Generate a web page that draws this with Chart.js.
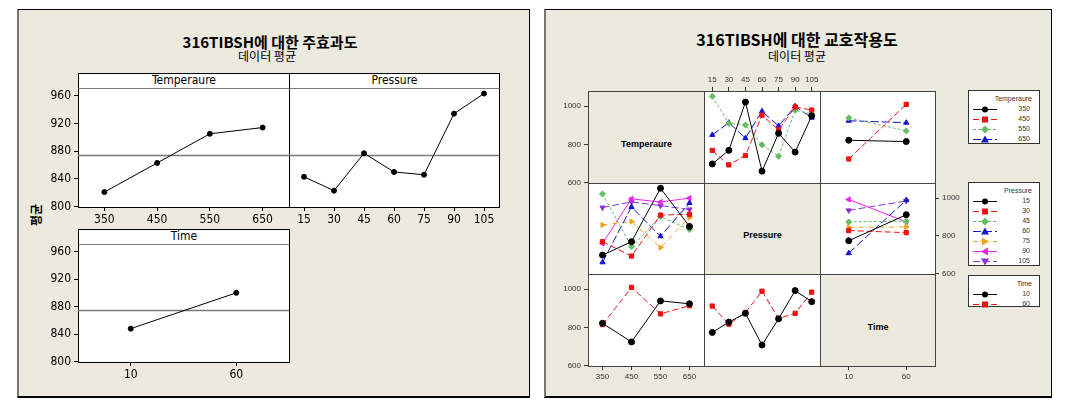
<!DOCTYPE html>
<html>
<head>
<meta charset="utf-8">
<script src="https://cdn.jsdelivr.net/npm/chart.js@4.4.1/dist/chart.umd.min.js"></script>
<style>
  body { margin: 0; width: 1068px; height: 408px; background: #fff; position: relative; overflow: hidden;
         font-family: 'Liberation Sans', Arial, sans-serif; }
  .panel { position: absolute; box-sizing: border-box; background: #ECE9DF;
           border-top: 1px solid #000; border-left: 2px solid #777; border-right: 1px solid #000; border-bottom: 2px solid #000; }
  .title { position: absolute; transform: translate(-50%, -50%); white-space: nowrap; font-family: 'Noto Sans CJK KR', sans-serif; color: #000; }
  .cell { position: absolute; box-sizing: border-box; background: #fff; border: 1px solid #000; }
  .strip { position: absolute; box-sizing: border-box; background: #fff; border: 1px solid #000; border-bottom: 1px solid #7a7a7a;
           text-align: center; font-family: 'Liberation Sans Narrow', 'DejaVu Sans Condensed', sans-serif; font-size: 12px; line-height: 13px; }
  .icell { position: absolute; box-sizing: border-box; background: #fff; border: 1px solid #444; }
  .diag { background: #ECE9DF; font-weight: bold; font-size: 9px; text-align: center; }
  .legend { position: absolute; box-sizing: border-box; background: #fff; border: 1px solid #333; padding-top: 3px;
            font-size: 7px; color: #333; }
  .legend .lt { height: 10px; line-height: 10px; text-align: right; padding-right: 7px; }
  .legend .row { height: 10px; display: flex; align-items: center; }
  .legend .row svg { margin-left: 3px; }
  .legend .row span { flex: 1; text-align: right; padding-right: 9px; line-height: 10px; }
  canvas { position: absolute; }
</style>
</head>
<body>
<div class="panel" style="left:17px;top:9px;width:513px;height:389px"></div>
<div class="panel" style="left:544px;top:9px;width:508px;height:389px"></div>

<div class="title" style="left:270px;top:41px;font-size:15px;font-weight:bold">316TIBSH에 대한 주효과도</div>
<div class="title" style="left:267px;top:55px;font-size:12px">데이터 평균</div>
<div class="title" style="left:797px;top:39px;font-size:16px;font-weight:bold">316TIBSH에 대한 교호작용도</div>
<div class="title" style="left:797px;top:55px;font-size:12px">데이터 평균</div>
<div class="title" style="left:35px;top:215px;font-size:12px;font-weight:bold;transform:translate(-50%,-50%) rotate(-90deg)">평균</div>

<script>
// factor levels
const temperatures = ['350', '450', '550', '650'];
const pressures = ['15', '30', '45', '60', '75', '90', '105'];
const times = ['10', '60'];

// main effects (data means)
const tempMeans = [821, 863, 905, 914];
const pressMeans = [843, 823, 877, 850, 846, 934, 963];
const timeMeans = [848, 900];
const grandMean = 875;
const mainTicks = [800, 840, 880, 920, 960];

// interaction means, Temperature x Pressure
const t350ByPressure = [698, 769, 1022, 660, 858, 760, 950];
const t450ByPressure = [769, 693, 742, 953, 876, 996, 980];
const t550ByPressure = [1052, 910, 902, 798, 738, 979, 960];
const t650ByPressure = [850, 914, 833, 974, 897, 1000, 940];

// Temperature x Time
const t350ByTime = [822, 815];
const t450ByTime = [724, 1010];
const t550ByTime = [939, 871];
const t650ByTime = [924, 914];

// Pressure x Time
const p15ByTime = [774, 912];
const p30ByTime = [828, 817];
const p45ByTime = [874, 878];
const p60ByTime = [708, 990];
const p75ByTime = [845, 847];
const p90ByTime = [993, 874];
const p105ByTime = [935, 985];

const interTicks = [600, 800, 1000];

const tempByPressure = [t350ByPressure, t450ByPressure, t550ByPressure, t650ByPressure];
const tempByTime = [t350ByTime, t450ByTime, t550ByTime, t650ByTime];
const pressByTime = [p15ByTime, p30ByTime, p45ByTime, p60ByTime, p75ByTime, p90ByTime, p105ByTime];

// series looks
const tempStyle = [
  { color: '#000000', shape: 'circle', rot: 0, dash: [] },
  { color: '#EE1111', shape: 'rect', rot: 0, dash: [6, 3] },
  { color: '#66BB66', shape: 'rectRot', rot: 0, dash: [3, 2] },
  { color: '#1414D2', shape: 'triangle', rot: 0, dash: [8, 3] },
];
const pressStyle = [
  { color: '#000000', shape: 'circle', rot: 0, dash: [] },
  { color: '#EE1111', shape: 'rect', rot: 0, dash: [6, 3] },
  { color: '#66BB66', shape: 'rectRot', rot: 0, dash: [3, 2] },
  { color: '#1414D2', shape: 'triangle', rot: 0, dash: [8, 3] },
  { color: '#F0A020', shape: 'triangle', rot: 90, dash: [5, 2, 1, 2] },
  { color: '#EE22EE', shape: 'triangle', rot: 270, dash: [] },
  { color: '#8833CC', shape: 'triangle', rot: 180, dash: [7, 3] },
];
const timeStyle = [
  { color: '#000000', shape: 'circle', rot: 0, dash: [] },
  { color: '#EE1111', shape: 'rect', rot: 0, dash: [6, 3] },
];

const narrowFont = "'Liberation Sans Narrow', 'DejaVu Sans Condensed', sans-serif";

const meanLine = {
  id: 'meanLine',
  beforeDatasetsDraw(chart, args, opts) {
    if (opts.value == null) return;
    const { ctx, chartArea: a } = chart;
    const py = Math.round(chart.scales.y.getPixelForValue(opts.value)) + 0.5;
    ctx.save();
    ctx.strokeStyle = '#7a7a7a';
    ctx.lineWidth = 1.5;
    ctx.beginPath();
    ctx.moveTo(a.left, py);
    ctx.lineTo(a.right, py);
    ctx.stroke();
    ctx.restore();
  }
};

function addDiv(cls, left, top, width, height, html) {
  const d = document.createElement('div');
  d.className = cls;
  Object.assign(d.style, { left: left + 'px', top: top + 'px', width: width + 'px', height: height + 'px' });
  if (html) d.innerHTML = html;
  document.body.appendChild(d);
  return d;
}

// one chart per cell; left/top/width/height is the plot area
function cellChart(o) {
  const pad = 12;
  const ml = o.yPos === 'left' ? o.yW : pad;
  const mr = o.yPos === 'right' ? o.yW : pad;
  const mt = o.xPos === 'top' ? o.xH : pad;
  const mb = o.xPos === 'bottom' ? o.xH : pad;
  const canvas = document.createElement('canvas');
  const w = o.width + ml + mr, h = o.height + mt + mb;
  canvas.width = w; canvas.height = h;
  canvas.style.left = (o.left - ml) + 'px';
  canvas.style.top = (o.top - mt) + 'px';
  canvas.style.width = w + 'px';
  canvas.style.height = h + 'px';
  document.body.appendChild(canvas);

  const tickFont = { family: o.fontFamily, size: o.fontSize };
  return new Chart(canvas.getContext('2d'), {
    type: 'line',
    data: { labels: o.labels, datasets: o.datasets },
    options: {
      responsive: false,
      animation: false,
      events: [],
      layout: {
        padding: {
          left: o.yPos === 'left' ? 0 : pad,
          right: o.yPos === 'right' ? 0 : pad,
          top: o.xPos === 'top' ? 0 : pad,
          bottom: o.xPos === 'bottom' ? 0 : pad,
        }
      },
      plugins: { legend: { display: false }, tooltip: { enabled: false }, meanLine: { value: o.mean } },
      scales: {
        x: {
          type: 'category',
          display: !!o.xPos,
          position: o.xPos || 'bottom',
          offset: true,
          border: { display: false },
          grid: { drawOnChartArea: false, drawTicks: true, tickLength: 4, color: o.tickColor },
          ticks: { font: tickFont, color: o.tickColor, padding: 2, maxRotation: 0, autoSkip: false },
          afterFit: (s) => { s.height = o.xPos ? o.xH : 0; },
        },
        y: {
          display: !!o.yPos,
          position: o.yPos || 'left',
          min: o.yMin,
          max: o.yMax,
          border: { display: false },
          grid: { drawOnChartArea: false, drawTicks: true, tickLength: 4, color: o.tickColor },
          ticks: { font: tickFont, color: o.tickColor, padding: 3, callback: (v) => String(v) },
          afterBuildTicks: (s) => { s.ticks = o.yTicks.map(v => ({ value: v })); },
          afterFit: (s) => { s.width = o.yPos ? o.yW : 0; },
        }
      }
    },
    plugins: [meanLine]
  });
}

function series(data, st, r) {
  return {
    data: data,
    borderColor: st.color,
    backgroundColor: st.color,
    borderWidth: 1,
    borderDash: st.dash,
    pointStyle: st.shape,
    pointRotation: st.rot,
    pointRadius: r,
    pointBorderWidth: 1,
    pointBorderColor: st.color,
    pointBackgroundColor: st.color,
    tension: 0,
  };
}

// ---------- main effects panel ----------
const mainDot = { color: '#000000', shape: 'circle', rot: 0, dash: [] };
const mainBase = { yMin: 799.5, yMax: 971, yTicks: mainTicks, xH: 22, yW: 38, fontFamily: narrowFont, fontSize: 12, tickColor: '#000', mean: grandMean };

addDiv('cell', 78, 73, 212, 135);
addDiv('cell', 289, 73, 211, 135);
addDiv('cell', 78, 229, 212, 134);
addDiv('strip', 78, 73, 212, 16, 'Temperaure');
addDiv('strip', 289, 73, 211, 16, 'Pressure');
addDiv('strip', 78, 229, 212, 16, 'Time');

cellChart(Object.assign({}, mainBase, { left: 78, top: 88, width: 211, height: 119, xPos: 'bottom', yPos: 'left',
  labels: temperatures, datasets: [series(tempMeans, mainDot, 2.5)] }));
cellChart(Object.assign({}, mainBase, { left: 289, top: 88, width: 210, height: 119, xPos: 'bottom', yPos: null,
  labels: pressures, datasets: [series(pressMeans, mainDot, 2.5)] }));
cellChart(Object.assign({}, mainBase, { left: 78, top: 244, width: 211, height: 118, xPos: 'bottom', yPos: 'left',
  labels: times, datasets: [series(timeMeans, mainDot, 2.5)] }));

// ---------- interaction panel ----------
const colX = [588, 704, 820];
const colW = [116, 116, 115];
const rowY = [91, 183, 274];
const rowH = [92, 91, 92];
const diagNames = ['Temperaure', 'Pressure', 'Time'];

for (let r = 0; r < 3; r++) {
  for (let c = 0; c < 3; c++) {
    const d = addDiv('icell' + (r === c ? ' diag' : ''), colX[c], rowY[r], colW[c] + 1, rowH[r] + 1);
    if (r === c) {
      d.style.lineHeight = (rowH[r] + 12) + 'px';
      d.textContent = diagNames[r];
    }
  }
}

const levelsOf = [temperatures, pressures, times];
// series for cell (row factor = lines, col factor = x axis)
function cellSeries(r, c) {
  if (r === 0 && c === 1) return tempByPressure.map((d, i) => series(d, tempStyle[i], 3));
  if (r === 0 && c === 2) return tempByTime.map((d, i) => series(d, tempStyle[i], 3));
  if (r === 1 && c === 0) return pressStyle.map((st, i) => series(tempByPressure.map(t => t[i]), st, 3));
  if (r === 1 && c === 2) return pressByTime.map((d, i) => series(d, pressStyle[i], 3));
  if (r === 2 && c === 0) return timeStyle.map((st, j) => series(tempByTime.map(t => t[j]), st, 3));
  return timeStyle.map((st, j) => series(pressByTime.map(p => p[j]), st, 3));
}

const interBase = { yMin: 598, yMax: 1080, yTicks: interTicks, xH: 16, yW: 30, fontFamily: "'Liberation Sans', Arial, sans-serif", fontSize: 8, tickColor: '#333', mean: null };
for (let r = 0; r < 3; r++) {
  for (let c = 0; c < 3; c++) {
    if (r === c) continue;
    let xPos = null, yPos = null;
    if (r === 0 && c === 1) xPos = 'top';
    if (r === 2 && c === 0) xPos = 'bottom';
    if (r === 1 && c === 2) yPos = 'right';
    if (r === 2 && c === 0) yPos = 'left';
    cellChart(Object.assign({}, interBase, {
      left: colX[c], top: rowY[r], width: colW[c], height: rowH[r],
      xPos: xPos, yPos: yPos,
      labels: levelsOf[c], datasets: cellSeries(r, c)
    }));
  }
}

// left axis for the Temperature row and bottom axis for the Time column, on the diagonal cells
cellChart(Object.assign({}, interBase, { left: colX[0], top: rowY[0], width: colW[0], height: rowH[0], xPos: null, yPos: 'left', labels: temperatures, datasets: [] }));
cellChart(Object.assign({}, interBase, { left: colX[2], top: rowY[2], width: colW[2], height: rowH[2], xPos: 'bottom', yPos: null, labels: times, datasets: [] }));

// ---------- legends ----------
function markerSvg(st) {
  const c = st.color;
  let shape;
  if (st.shape === 'circle') shape = `<circle cx="13" cy="4.5" r="3" fill="${c}"/>`;
  else if (st.shape === 'rect') shape = `<rect x="10" y="1.5" width="6" height="6" fill="${c}"/>`;
  else if (st.shape === 'rectRot') shape = `<polygon points="13,0.5 17,4.5 13,8.5 9,4.5" fill="${c}"/>`;
  else shape = `<polygon points="13,0.5 17,7.5 9,7.5" fill="${c}" transform="rotate(${st.rot} 13 4.5)"/>`;
  return `<svg width="26" height="9"><line x1="1" y1="4.5" x2="25" y2="4.5" stroke="${c}" stroke-width="1" stroke-dasharray="${st.dash.join(' ')}"/>${shape}</svg>`;
}
function legend(top, height, title, levels, styles) {
  let html = `<div class="lt">${title}</div>`;
  levels.forEach((lv, i) => { html += `<div class="row">${markerSvg(styles[i])}<span>${lv}</span></div>`; });
  addDiv('legend', 968, top, 72, height, html);
}
legend(90, 54, 'Temperaure', temperatures, tempStyle);
legend(182, 84, 'Pressure', pressures, pressStyle);
legend(275, 32, 'Time', times, timeStyle);
</script>
</body>
</html>
